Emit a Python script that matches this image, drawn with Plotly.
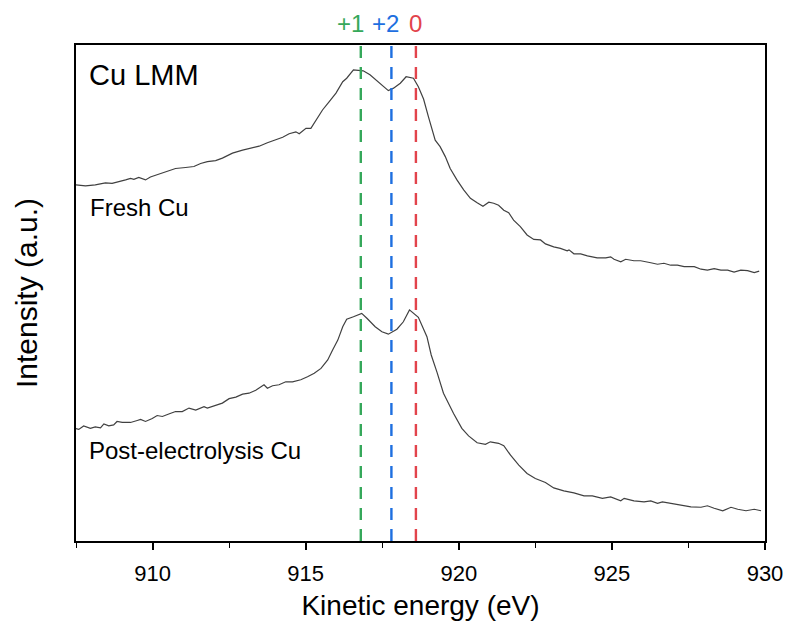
import plotly.graph_objects as go

# Cu LMM Auger spectra (kinetic energy in eV, intensity in arbitrary units)
fresh_energy = [907.48, 907.81, 908.13, 908.46, 908.68, 908.90, 909.12, 909.28, 909.39, 909.55,
                909.66, 909.77, 909.93, 910.21, 910.48, 910.75, 911.08, 911.35, 911.46, 911.57,
                911.79, 912.06, 912.28, 912.61, 912.94, 913.26, 913.48, 913.75, 914.03, 914.25,
                914.46, 914.68, 914.79, 915.01, 915.17, 915.34, 915.55, 915.77, 915.99, 916.21,
                916.34, 916.56, 916.88, 917.10, 917.43, 917.70, 917.87, 918.09, 918.28, 918.52,
                918.68, 918.85, 919.01, 919.12, 919.23, 919.39, 919.56, 919.72, 919.94, 920.16,
                920.38, 920.60, 920.79, 920.98, 921.14, 921.30, 921.47, 921.63, 921.79, 922.01,
                922.23, 922.45, 922.67, 922.83, 923.10, 923.32, 923.54, 923.60, 923.76, 923.98,
                924.20, 924.52, 924.80, 924.96, 925.07, 925.29, 925.45, 925.72, 925.94, 926.27,
                926.49, 926.70, 926.92, 927.14, 927.36, 927.69, 927.91, 928.12, 928.34, 928.56,
                928.78, 928.99, 929.21, 929.43, 929.65, 929.81]
fresh_intensity = [71.8, 71.6, 71.8, 72.2, 72.1, 72.4, 72.8, 73.1, 72.9, 73.3,
                   73.1, 72.8, 73.4, 74.0, 74.5, 75.1, 75.3, 75.5, 75.8, 76.1,
                   76.5, 76.7, 77.2, 78.2, 78.8, 79.2, 79.6, 80.3, 81.0, 81.4,
                   82.1, 82.5, 82.1, 83.2, 83.2, 84.9, 86.9, 88.6, 90.3, 92.6,
                   93.3, 95.0, 94.8, 94.0, 92.3, 90.8, 91.3, 92.3, 93.6, 93.3,
                   91.6, 89.1, 85.5, 82.9, 80.8, 79.5, 77.5, 75.1, 72.8, 70.8,
                   69.1, 68.2, 67.5, 68.3, 68.1, 67.7, 66.7, 66.2, 64.7, 63.4,
                   61.7, 60.8, 60.7, 59.9, 59.3, 59.0, 58.5, 58.7, 57.9, 57.9,
                   57.5, 57.1, 57.1, 57.3, 56.8, 56.3, 56.8, 56.5, 56.5, 56.1,
                   55.8, 56.0, 55.6, 55.6, 55.3, 55.3, 54.8, 54.6, 54.9, 54.6,
                   54.6, 54.2, 54.6, 54.5, 54.1, 54.4]

post_energy = [907.48, 907.59, 907.75, 907.97, 908.13, 908.30, 908.41, 908.57, 908.73, 908.84,
               909.01, 909.28, 909.50, 909.61, 909.77, 909.99, 910.15, 910.32, 910.53, 910.75,
               910.97, 911.19, 911.41, 911.68, 911.79, 912.06, 912.28, 912.50, 912.72, 912.94,
               913.15, 913.37, 913.64, 913.75, 913.92, 914.13, 914.35, 914.57, 914.84, 915.06,
               915.28, 915.50, 915.72, 915.88, 916.05, 916.21, 916.34, 916.56, 916.83, 917.00,
               917.27, 917.49, 917.70, 917.98, 918.19, 918.39, 918.52, 918.68, 918.96, 919.10,
               919.29, 919.50, 919.83, 920.10, 920.32, 920.60, 920.87, 921.03, 921.30, 921.47,
               921.69, 921.96, 922.23, 922.50, 922.83, 923.10, 923.43, 923.76, 924.09, 924.36,
               924.69, 924.96, 925.29, 925.40, 925.72, 926.05, 926.27, 926.49, 926.65, 926.92,
               927.25, 927.58, 927.91, 928.12, 928.34, 928.62, 928.89, 929.11, 929.38, 929.65,
               929.87]
post_intensity = [22.7, 22.5, 23.2, 22.7, 23.0, 22.8, 23.6, 23.2, 23.4, 24.1,
                  23.9, 23.9, 24.3, 24.5, 24.1, 24.7, 25.3, 25.1, 25.6, 26.1,
                  26.1, 26.8, 26.4, 27.1, 26.8, 27.4, 27.8, 28.7, 29.0, 29.6,
                  29.8, 30.4, 31.5, 30.8, 31.3, 31.5, 32.1, 32.1, 32.5, 33.1,
                  33.8, 34.8, 36.5, 38.5, 40.5, 43.2, 44.7, 45.2, 45.9, 44.9,
                  43.2, 42.2, 41.7, 42.7, 44.2, 46.6, 46.0, 45.1, 41.2, 37.5,
                  34.0, 29.8, 25.7, 22.7, 21.2, 19.8, 19.5, 20.0, 19.7, 19.2,
                  17.3, 15.3, 13.6, 12.6, 11.8, 10.7, 10.1, 9.7, 9.1, 9.1,
                  8.6, 8.9, 8.1, 8.6, 8.1, 7.9, 8.1, 7.6, 7.9, 7.6,
                  7.3, 6.9, 6.8, 7.1, 6.6, 6.1, 6.8, 6.4, 6.1, 6.4,
                  6.1]

# Reference positions of the Cu oxidation states
state_labels = ["+1", "+2", "0"]
state_energy = [916.8, 917.8, 918.6]
state_colors = ["#35a85a", "#1e6fe0", "#e2434b"]
state_label_shift = [-10, -6, 0]

x_range = [907.5, 930]
y_range = [0, 100]
x_ticks = [910, 915, 920, 925, 930]

font_family = "Liberation Sans, Arial, sans-serif"
line_color = "#404040"

fig = go.Figure()
fig.add_trace(go.Scatter(x=fresh_energy, y=fresh_intensity, mode="lines",
                         line=dict(color=line_color, width=1.2), showlegend=False))
fig.add_trace(go.Scatter(x=post_energy, y=post_intensity, mode="lines",
                         line=dict(color=line_color, width=1.2), showlegend=False))

for lab, e, c, dx in zip(state_labels, state_energy, state_colors, state_label_shift):
    fig.add_shape(type="line", x0=e, x1=e, y0=0, y1=1, xref="x", yref="paper",
                  line=dict(color=c, width=2.4, dash="12px,9px"))
    fig.add_annotation(x=e, y=1, xref="x", yref="paper", text=lab, showarrow=False,
                       yanchor="bottom", yshift=6, xshift=dx,
                       font=dict(size=24, color=c, family=font_family))

fig.add_annotation(x=0.016, y=0.94, xref="paper", yref="paper", text="Cu LMM", showarrow=False,
                   xanchor="left", yanchor="middle", font=dict(size=29, color="black", family=font_family))
fig.add_annotation(x=0.018, y=0.673, xref="paper", yref="paper", text="Fresh Cu", showarrow=False,
                   xanchor="left", yanchor="middle", font=dict(size=24, color="black", family=font_family))
fig.add_annotation(x=0.016, y=0.183, xref="paper", yref="paper", text="Post-electrolysis Cu", showarrow=False,
                   xanchor="left", yanchor="middle", font=dict(size=24, color="black", family=font_family))

fig.update_layout(
    width=788, height=630,
    margin=dict(l=76, r=23, t=45, b=89),
    plot_bgcolor="white", paper_bgcolor="white",
    font=dict(family=font_family, color="black"),
)
fig.update_xaxes(range=x_range, tickvals=x_ticks, ticks="outside", ticklen=7, tickwidth=1.5,
                 tickcolor="black", showline=True, linecolor="black", linewidth=2, mirror=True,
                 showgrid=False, zeroline=False, tickfont=dict(size=22), ticklabelstandoff=5,
                 automargin=False,
                 minor=dict(dtick=2.5, tick0=907.5, ticks="outside", ticklen=5, tickwidth=1.2, tickcolor="black"),
                 title=dict(text="Kinetic energy (eV)", font=dict(size=28), standoff=10))
fig.update_yaxes(range=y_range, showticklabels=False, ticks="", showline=True, linecolor="black",
                 linewidth=2, mirror=True, showgrid=False, zeroline=False,
                 title=dict(text="Intensity (a.u.)", font=dict(size=30), standoff=28))

fig.write_html("out.html")
